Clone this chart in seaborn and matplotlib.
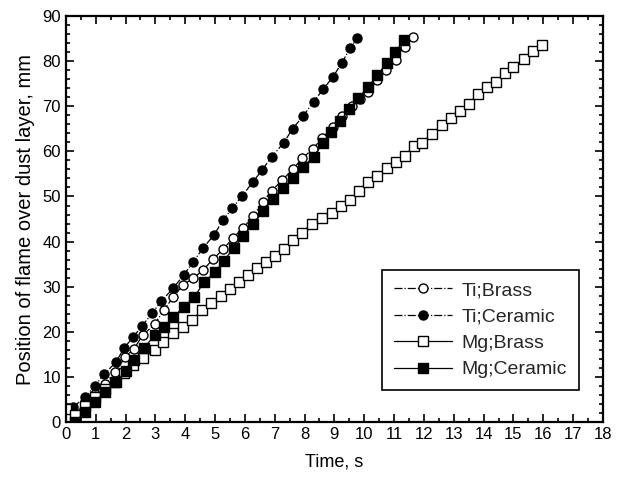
import pandas as pd
import matplotlib.pyplot as plt
import seaborn as sns
from matplotlib.ticker import MultipleLocator

# data (time in s, position in mm)
ti_brass_t = [0.3, 0.64, 0.97, 1.3, 1.65, 1.98, 2.28, 2.58, 2.98, 3.28, 3.6, 3.93,
              4.27, 4.6, 4.93, 5.27, 5.6, 5.94, 6.27, 6.6, 6.9, 7.25, 7.6, 7.93,
              8.27, 8.6, 8.95, 9.27, 9.6, 9.87, 10.13, 10.43, 10.74, 11.05, 11.35, 11.65]
ti_brass_y = [1.8, 4.0, 6.2, 8.5, 11.0, 14.4, 16.2, 19.3, 21.7, 24.8, 27.7, 30.4,
              31.9, 33.7, 36.1, 38.3, 40.8, 43.0, 45.6, 48.8, 51.3, 53.6, 56.0, 58.5,
              60.5, 63.0, 65.5, 67.8, 70.0, 71.5, 73.2, 75.8, 78.0, 80.3, 83.2, 85.3]

ti_ceramic_t = [0.24, 0.64, 0.97, 1.28, 1.68, 1.95, 2.25, 2.55, 2.9, 3.2, 3.6, 3.95,
                4.27, 4.6, 4.97, 5.27, 5.58, 5.9, 6.27, 6.58, 6.9, 7.3, 7.6, 7.95,
                8.3, 8.63, 8.95, 9.25, 9.53, 9.77]
ti_ceramic_y = [3.3, 5.5, 8.0, 10.6, 13.3, 16.4, 18.8, 21.3, 24.2, 26.8, 29.7, 32.6,
                35.5, 38.6, 41.5, 44.8, 47.4, 50.1, 53.2, 55.9, 58.8, 61.9, 65.0, 67.8,
                71.0, 73.8, 76.5, 79.6, 82.9, 85.1]

mg_brass_t = [0.0, 0.3, 0.64, 0.97, 1.3, 1.65, 1.95, 2.25, 2.6, 2.98, 3.26, 3.6,
              3.93, 4.23, 4.56, 4.87, 5.2, 5.5, 5.8, 6.1, 6.4, 6.7, 7.0, 7.3,
              7.6, 7.9, 8.25, 8.6, 8.93, 9.23, 9.53, 9.83, 10.13, 10.44, 10.77, 11.07,
              11.35, 11.68, 11.95, 12.28, 12.6, 12.9, 13.2, 13.5, 13.8, 14.1, 14.43, 14.7,
              15.0, 15.34, 15.64, 15.94]
mg_brass_y = [3.0, 1.5, 3.5, 5.5, 7.3, 9.0, 10.8, 12.6, 14.2, 16.0, 17.7, 19.7,
              21.1, 22.6, 24.8, 26.4, 28.0, 29.5, 31.0, 32.6, 34.2, 35.5, 36.8, 38.4,
              40.4, 41.9, 44.0, 45.2, 46.3, 47.9, 49.2, 51.2, 53.2, 54.5, 56.3, 57.6,
              59.0, 61.2, 61.9, 63.9, 65.9, 67.4, 69.0, 70.5, 72.7, 74.3, 75.4, 77.4,
              78.7, 80.4, 82.3, 83.6]

mg_ceramic_t = [0.3, 0.64, 0.97, 1.3, 1.68, 2.0, 2.28, 2.62, 2.98, 3.28, 3.6, 3.96,
                4.3, 4.63, 5.0, 5.3, 5.62, 5.95, 6.28, 6.62, 6.95, 7.28, 7.62, 7.95,
                8.3, 8.62, 8.9, 9.2, 9.5, 9.8, 10.13, 10.44, 10.77, 11.04, 11.34]
mg_ceramic_y = [0.0, 2.2, 4.4, 6.7, 8.9, 11.3, 13.7, 16.4, 19.3, 21.1, 23.3, 25.5,
                27.7, 31.0, 33.3, 35.8, 38.5, 41.3, 44.0, 46.8, 49.5, 51.8, 54.0, 56.5,
                58.8, 61.9, 64.3, 66.7, 69.4, 71.8, 74.3, 76.9, 79.6, 82.0, 84.7]

sns.set_theme(style='ticks')
plt.rcParams['font.family'] = ['Liberation Sans', 'DejaVu Sans']

fig = plt.figure(figsize=(6.21, 4.83), dpi=100)
ax = fig.add_axes([0.106, 0.126, 0.865, 0.841])

series = [
    ('Ti;Brass', ti_brass_t, ti_brass_y, 'o', 'white', '-.'),
    ('Ti;Ceramic', ti_ceramic_t, ti_ceramic_y, 'o', 'black', '-.'),
    ('Mg;Brass', mg_brass_t, mg_brass_y, 's', 'white', '-'),
    ('Mg;Ceramic', mg_ceramic_t, mg_ceramic_y, 's', 'black', '-'),
]
for label, t, y, m, fc, ls in series:
    sns.lineplot(x=t, y=y, ax=ax, sort=False, estimator=None, label=label,
                 color='black', linestyle=ls, linewidth=0.9, marker=m,
                 markersize=6.5, markerfacecolor=fc, markeredgecolor='black',
                 markeredgewidth=1.0)

ax.set_xlim(0, 18)
ax.set_ylim(0, 90)
ax.xaxis.set_major_locator(MultipleLocator(1))
ax.xaxis.set_minor_locator(MultipleLocator(0.5))
ax.yaxis.set_major_locator(MultipleLocator(10))
ax.yaxis.set_minor_locator(MultipleLocator(2))
ax.tick_params(which='both', direction='in', top=True, right=True,
               color='black', width=1.2, labelsize=12, labelcolor='black')
ax.tick_params(which='major', length=6)
ax.tick_params(which='minor', length=3)
for s in ax.spines.values():
    s.set_linewidth(1.6)
    s.set_color('black')

ax.set_xlabel('Time, s', fontsize=13, color='black', labelpad=8)
ax.set_ylabel('Position of flame over dust layer, mm', fontsize=14.5, color='black', labelpad=5)

leg = ax.legend(loc='lower right', bbox_to_anchor=(0.955, 0.079), fontsize=14,
                frameon=True, fancybox=False, edgecolor='black', framealpha=1,
                handlelength=3.0, labelspacing=0.45, borderpad=0.6, handletextpad=0.5,
                borderaxespad=0)
leg.get_frame().set_linewidth(1.2)

fig.savefig('out.png', dpi=100)
